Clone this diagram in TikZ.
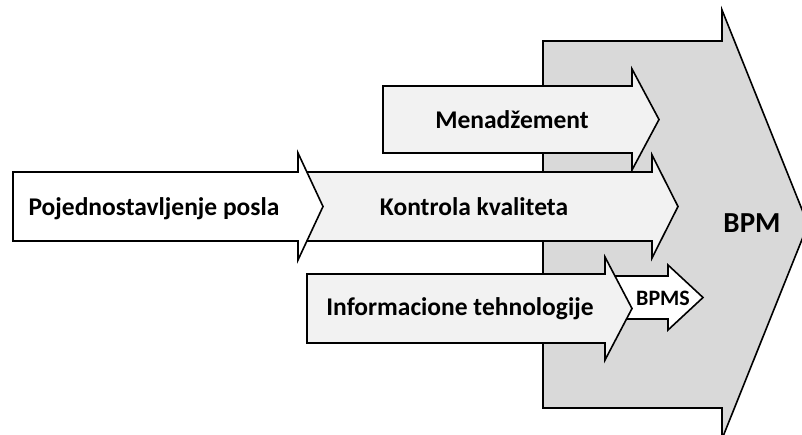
\documentclass[tikz,border=0pt]{standalone}
\usepackage{fontspec}
\setmainfont{Carlito}
\begin{document}
\begin{tikzpicture}[x=1pt,y=-1pt,
  shape outline/.style={draw=black, line width=1.6pt, line join=miter},
  labeltext/.style={font=\bfseries\fontsize{25.5}{28}\selectfont, anchor=base, inner sep=0pt},
  biglabel/.style={font=\bfseries\fontsize{29}{32}\selectfont, anchor=base, inner sep=0pt},
  smalllabel/.style={font=\bfseries\fontsize{22}{25}\selectfont, anchor=base, inner sep=0pt}]
\definecolor{bpmgray}{HTML}{D9D9D9}
\definecolor{lightarrow}{HTML}{F2F2F2}
\useasboundingbox (0,0) rectangle (802,434);
\begin{scope}
\clip (0,0) rectangle (802,434);
% large BPM arrow in the background
\draw[shape outline, fill=bpmgray]
  (543,41) -- (722,41) -- (722,10) -- (808,224.5) -- (722,439) -- (722,408) -- (543,408) -- cycle;
\end{scope}
% Menadzement
\draw[shape outline, fill=lightarrow]
  (383,86) -- (632,86) -- (632,69) -- (659,119.5) -- (632,170) -- (632,153) -- (383,153) -- cycle;
% Kontrola kvaliteta (its tail lies under the first arrow)
\draw[shape outline, fill=lightarrow]
  (200,172) -- (652,172) -- (652,155) -- (678,206.5) -- (652,258) -- (652,241) -- (200,241) -- cycle;
% Pojednostavljenje posla
\draw[shape outline, fill=white]
  (13,172) -- (298,172) -- (298,153) -- (323,206.5) -- (298,260) -- (298,241) -- (13,241) -- cycle;
% BPMS (behind the IT arrow head)
\draw[shape outline, fill=white]
  (600,276) -- (668,276) -- (668,265) -- (703,297.5) -- (668,330) -- (668,319) -- (600,319) -- cycle;
% Informacione tehnologije
\draw[shape outline, fill=lightarrow]
  (307,274) -- (605,274) -- (605,257) -- (632,308.5) -- (605,360) -- (605,343) -- (307,343) -- cycle;
% labels
\node[biglabel] (bpm) at (752,232) {BPM};
\node[labeltext] (men) at (512,128.5) {Menadžement};
\node[labeltext] (kon) at (474,215) {Kontrola kvaliteta};
\node[labeltext] (poj) at (154,215) {Pojednostavljenje posla};
\node[labeltext] (inf) at (460,315.5) {Informacione tehnologije};
\node[smalllabel] (bpms) at (663,305) {BPMS};
\end{tikzpicture}
\end{document}
